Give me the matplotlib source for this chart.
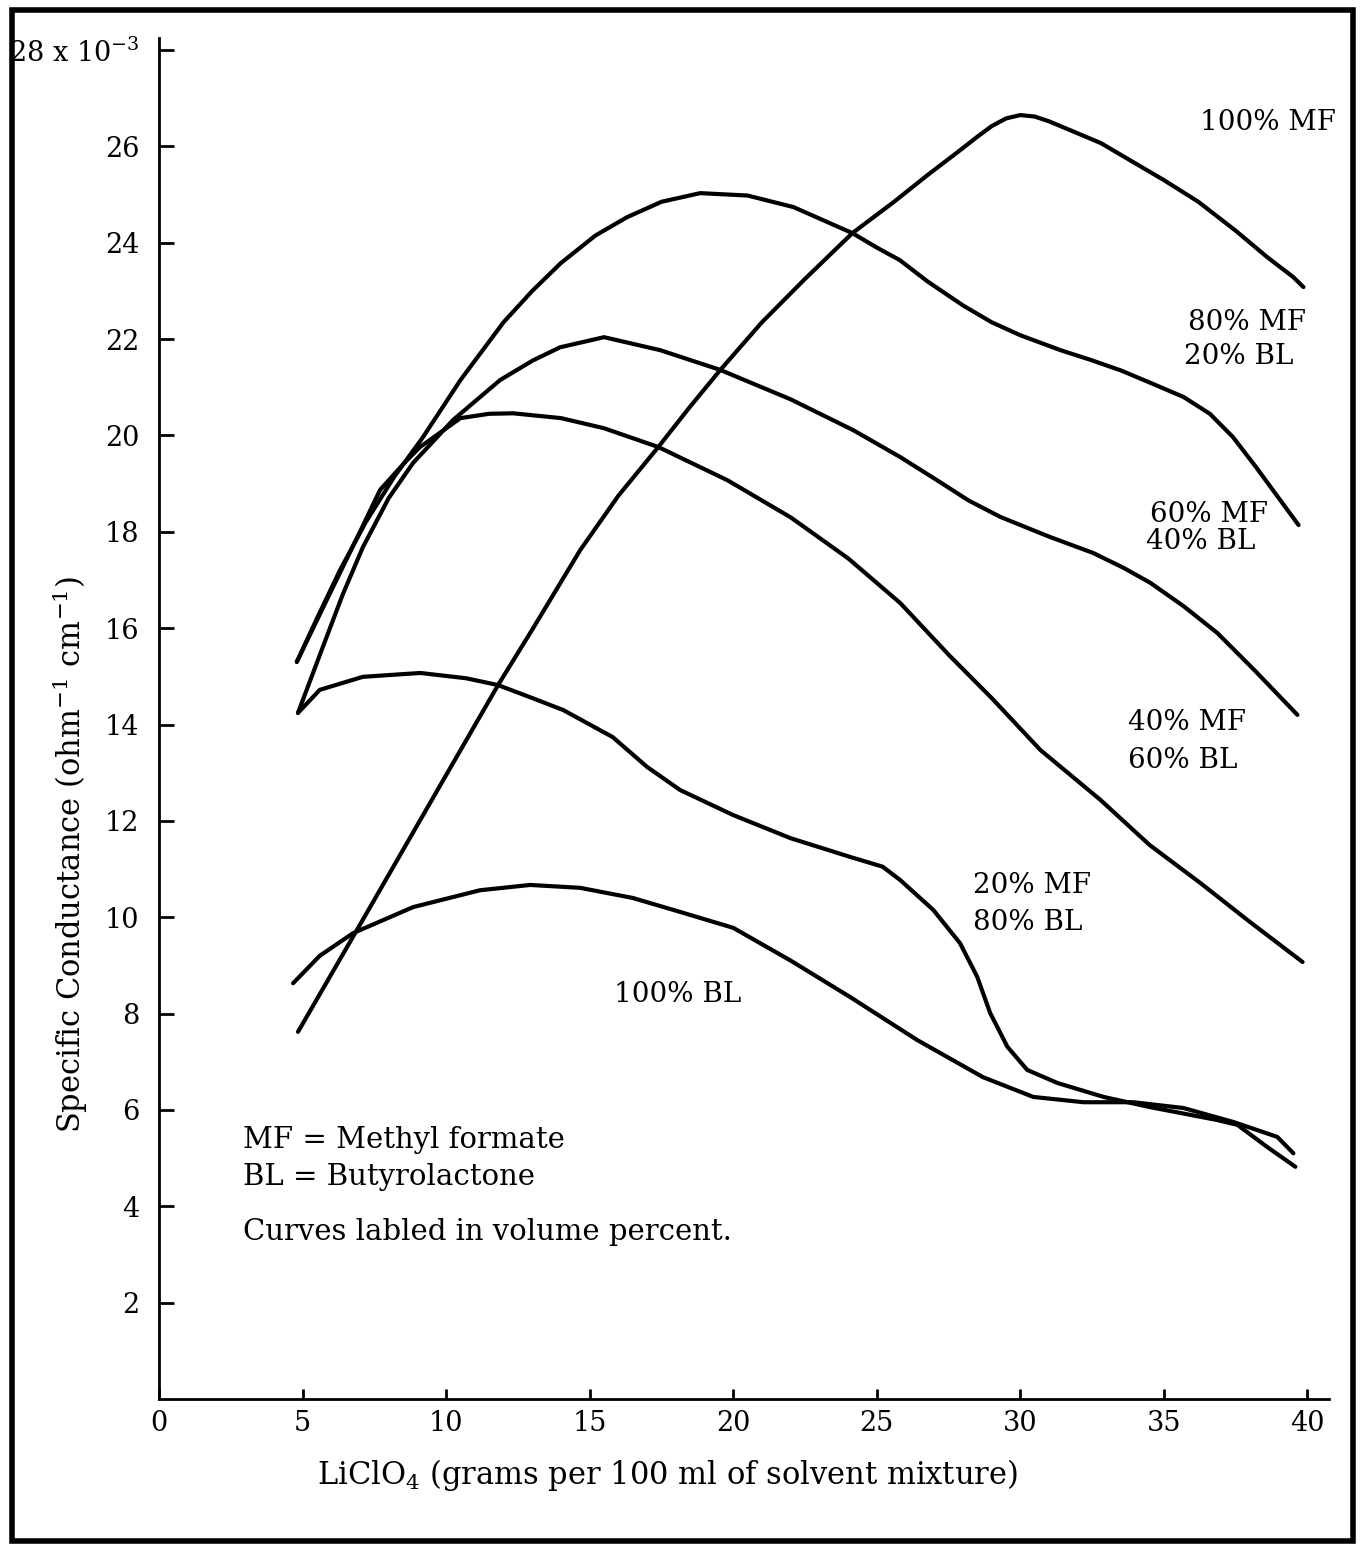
import matplotlib
matplotlib.use("Agg")
import matplotlib.pyplot as plt
from matplotlib.patches import Rectangle

plt.rcParams['font.family'] = ['DejaVu Serif']
plt.rcParams['mathtext.fontset'] = 'dejavuserif'

# ---- data ----
mf100_x = [4.84, 6.83, 8.0, 10.0, 11.81, 13.0, 14.67, 16.0, 17.39, 18.5, 19.55, 21.0, 22.5, 24.15,
           25.6, 26.8, 27.9, 28.5, 29.0, 29.5, 30.0, 30.5, 31.0, 31.8, 32.8, 34.0, 35.0, 36.2, 37.5,
           38.6, 39.5, 39.86]
mf100_y = [7.62, 9.67, 10.88, 12.95, 14.82, 15.97, 17.62, 18.75, 19.76, 20.6, 21.36, 22.35, 23.25, 24.2,
           24.85, 25.42, 25.92, 26.2, 26.42, 26.58, 26.65, 26.62, 26.52, 26.32, 26.07, 25.65, 25.3, 24.85,
           24.25, 23.7, 23.29, 23.08]

mf80_x = [4.8, 5.5, 6.3, 7.2, 8.2, 9.2, 10.5, 12.0, 13.0, 14.0, 15.2, 16.3, 17.5, 18.85, 20.5, 22.1,
          23.2, 24.15, 25.0, 25.8, 26.76, 28.0, 29.0, 30.0, 31.4, 32.44, 33.5, 34.5, 35.68, 36.6, 37.4,
          38.2, 39.0, 39.69]
mf80_y = [15.3, 16.2, 17.2, 18.2, 19.15, 19.97, 21.15, 22.35, 23.0, 23.58, 24.15, 24.53, 24.85, 25.03,
          24.98, 24.74, 24.45, 24.2, 23.9, 23.64, 23.2, 22.7, 22.35, 22.08, 21.77, 21.57, 21.35, 21.1,
          20.8, 20.45, 19.97, 19.35, 18.7, 18.14]

mf60_x = [4.84, 5.7, 6.4, 7.1, 8.0, 8.85, 10.24, 11.88, 13.0, 13.97, 15.5, 17.46, 19.55, 22.0, 24.18,
          25.82, 27.1, 28.2, 29.3, 31.0, 32.54, 33.6, 34.53, 35.7, 36.86, 38.2, 39.65]
mf60_y = [14.24, 15.6, 16.7, 17.68, 18.7, 19.43, 20.32, 21.15, 21.55, 21.83, 22.04, 21.77, 21.36, 20.75,
          20.11, 19.55, 19.07, 18.65, 18.31, 17.9, 17.56, 17.25, 16.94, 16.45, 15.9, 15.1, 14.2]

mf40_x = [4.8, 5.96, 7.0, 7.7, 8.5, 9.09, 10.5, 11.5, 12.33, 14.0, 15.5, 17.39, 19.8, 22.0, 24.0,
          25.82, 27.5, 29.0, 30.7, 32.8, 34.5, 36.27, 38.0, 39.83]
mf40_y = [15.3, 16.73, 18.0, 18.87, 19.4, 19.76, 20.36, 20.45, 20.46, 20.36, 20.15, 19.76, 19.07, 18.3,
          17.45, 16.52, 15.45, 14.55, 13.47, 12.43, 11.5, 10.71, 9.9, 9.07]

mf20_x = [4.84, 5.6, 7.1, 9.1, 10.7, 11.8, 13.0, 14.08, 15.8, 17.0, 18.15, 20.0, 22.0, 24.08, 25.2,
          25.82, 26.97, 27.9, 28.5, 28.95, 29.55, 30.24, 31.29, 32.9, 34.5, 36.86, 37.56, 38.6, 39.58]
mf20_y = [14.24, 14.72, 14.99, 15.07, 14.96, 14.82, 14.55, 14.3, 13.74, 13.12, 12.64, 12.12, 11.64,
          11.25, 11.05, 10.77, 10.15, 9.46, 8.76, 8.01, 7.31, 6.83, 6.56, 6.27, 6.06, 5.79, 5.69, 5.23, 4.82]

bl100_x = [4.67, 5.6, 6.76, 8.85, 11.18, 12.93, 14.67, 16.5, 18.15, 20.0, 22.0, 24.08, 26.41, 28.7,
           30.45, 32.2, 33.94, 35.68, 37.42, 38.95, 39.51]
bl100_y = [8.63, 9.2, 9.67, 10.21, 10.56, 10.67, 10.61, 10.4, 10.11, 9.78, 9.1, 8.34, 7.45, 6.68,
           6.27, 6.16, 6.16, 6.04, 5.75, 5.44, 5.1]

x_ticks = [0, 5, 10, 15, 20, 25, 30, 35, 40]
y_ticks = [2, 4, 6, 8, 10, 12, 14, 16, 18, 20, 22, 24, 26, 28]
y_tick_labels = ['2', '4', '6', '8', '10', '12', '14', '16', '18', '20', '22', '24', '26',
                 '28 x 10$^{-3}$']

curve_labels = [
    ("100% MF", 36.27, 26.5),
    ("80% MF", 35.85, 22.35),
    ("20% BL", 35.7, 21.63),
    ("60% MF", 34.53, 18.35),
    ("40% BL", 34.39, 17.79),
    ("40% MF", 33.76, 14.05),
    ("60% BL", 33.76, 13.26),
    ("20% MF", 28.36, 10.65),
    ("80% BL", 28.36, 9.9),
    ("100% BL", 15.85, 8.39),
]

notes = [
    ("MF = Methyl formate", 2.93, 5.38),
    ("BL = Butyrolactone", 2.93, 4.61),
    ("Curves labled in volume percent.", 2.93, 3.47),
]

# ---- figure ----
W, H = 1362, 1546
fig = plt.figure(figsize=(W / 100, H / 100), dpi=100)
fig.patches.append(Rectangle((12 / W, 1 - 1541 / H), (1353 - 12) / W, (1541 - 10) / H,
                             transform=fig.transFigure, fill=False, edgecolor='black',
                             linewidth=4.0))

ax = fig.add_axes([159 / W, 1 - 1399 / H, (1329 - 159) / W, (1399 - 38) / H])
ax.set_xlim(0, 40.75)
ax.set_ylim(0, 28.25)

lw = 3.0
for xs, ys in [(mf100_x, mf100_y), (mf80_x, mf80_y), (mf60_x, mf60_y), (mf40_x, mf40_y),
               (mf20_x, mf20_y), (bl100_x, bl100_y)]:
    ax.plot(xs, ys, color='black', linewidth=lw, solid_capstyle='round', solid_joinstyle='round')

for s in ['top', 'right']:
    ax.spines[s].set_visible(False)
for s in ['left', 'bottom']:
    ax.spines[s].set_linewidth(2.0)

ax.set_xticks(x_ticks)
ax.set_xticklabels([str(v) for v in x_ticks], fontsize=19.5)
ax.set_yticks(y_ticks)
ax.set_yticklabels(y_tick_labels, fontsize=19.5)
ax.tick_params(axis='y', direction='in', length=11, width=2, pad=14)
ax.tick_params(axis='x', direction='in', length=7, width=2, pad=8)

ax.set_xlabel("LiClO$_4$ (grams per 100 ml of solvent mixture)", fontsize=22)
ax.xaxis.set_label_coords((668 - 159) / 1170, (1399 - 1475) / 1361)
ax.xaxis.label.set_va('center')
ax.set_ylabel("Specific Conductance (ohm$^{-1}$ cm$^{-1}$)", fontsize=22)
ax.yaxis.set_label_coords((70 - 159) / 1170, (1399 - 855) / 1361)
ax.yaxis.label.set_va('center')

for txt, x, y in curve_labels:
    ax.text(x, y, txt, fontsize=20, ha='left', va='center', clip_on=False)
for txt, x, y in notes:
    ax.text(x, y, txt, fontsize=21, ha='left', va='center')

fig.savefig("out.png", dpi=100)
